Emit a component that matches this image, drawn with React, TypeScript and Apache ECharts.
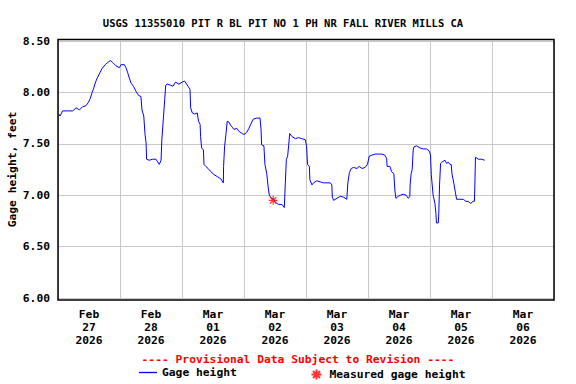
import React, { useEffect, useRef } from "react";
import * as echarts from "echarts";

const titleText = "USGS 11355010 PIT R BL PIT NO 1 PH NR FALL RIVER MILLS CA";
const dayLabels = ["Feb\n27\n2026", "Feb\n28\n2026", "Mar\n01\n2026", "Mar\n02\n2026", "Mar\n03\n2026", "Mar\n04\n2026", "Mar\n05\n2026", "Mar\n06\n2026"];
const yTicks = [6.0, 6.5, 7.0, 7.5, 8.0, 8.5];

// hours since 2026-02-27 00:00
const hours = [
  0.26, 0.77, 1.8, 3.7, 5.7, 7.0, 8.3, 9.5, 10.8, 11.7, 12.5, 13.2, 13.7, 14.4, 15.0, 16.0, 17.0, 18.3, 19.2, 20.3,
  21.2, 22.4, 23.7, 24.4, 25.7, 26.3, 27.0, 27.6, 28.3, 29.2, 30.2, 31.2, 32.1, 32.5, 33.2, 33.7, 34.1, 34.3, 35.3, 36.6,
  37.9, 39.2, 39.9, 40.2, 40.8, 41.3, 41.7, 42.3, 43.6, 44.5, 45.5, 46.8, 48.1, 49.0, 49.8, 50.3, 51.1, 51.35, 52.0, 52.9,
  53.9, 54.4, 55.0, 55.2, 55.6, 56.3, 56.5, 57.2, 58.1, 59.1, 60.4, 61.7, 63.0, 64.0, 64.1, 64.5, 65.0, 65.5, 66.2, 66.8,
  67.5, 68.1, 69.2, 70.1, 71.3, 72.0, 73.0, 73.9, 74.6, 75.6, 76.9, 78.2, 78.6, 78.8, 79.7, 80.1, 80.8, 81.4, 81.8, 82.6,
  83.6, 84.1, 85.4, 86.7, 87.6, 88.0, 88.4, 88.9, 89.3, 89.7, 90.6, 91.9, 93.1, 94.4, 95.7, 96.2, 96.6, 97.3, 97.5, 98.3,
  98.9, 100.2, 101.5, 102.8, 104.1, 105.4, 106.0, 106.2, 106.7, 108.0, 109.3, 110.6, 111.8, 112.2, 112.8, 113.5, 114.4, 115.7, 116.6, 117.7,
  118.9, 119.8, 120.5, 121.5, 122.8, 124.1, 125.4, 126.5, 127.2, 127.4, 128.5, 129.1, 130.0, 130.4, 130.8, 131.7, 132.6, 133.6, 134.7, 135.6,
  136.2, 136.3, 136.7, 137.1, 137.5, 137.8, 138.8, 140.1, 141.4, 142.7, 143.7, 144.2, 144.5, 145.2, 145.9, 146.3, 146.5, 147.2, 147.4, 147.7,
  148.1, 148.5, 149.8, 150.4, 151.1, 151.7, 152.2, 152.5, 153.2, 153.8, 154.3, 155.6, 156.9, 157.9, 158.8, 159.7, 160.7, 161.2, 161.4, 161.6,
  162.7, 163.9, 165.2,
];

const gageHeight = [
  7.79, 7.77, 7.82, 7.82, 7.82, 7.85, 7.83, 7.86, 7.87, 7.90, 7.94, 8.00, 8.03, 8.09, 8.13, 8.18, 8.23, 8.27, 8.29, 8.31,
  8.29, 8.26, 8.24, 8.27, 8.27, 8.24, 8.19, 8.14, 8.09, 8.06, 8.01, 7.97, 7.96, 7.83, 7.77, 7.59, 7.51, 7.35, 7.34, 7.35,
  7.35, 7.30, 7.34, 7.54, 7.75, 7.93, 8.07, 8.08, 8.07, 8.06, 8.10, 8.08, 8.10, 8.11, 8.08, 8.06, 8.03, 7.85, 7.80, 7.79,
  7.80, 7.72, 7.69, 7.57, 7.46, 7.44, 7.30, 7.28, 7.26, 7.23, 7.20, 7.18, 7.16, 7.12, 7.28, 7.48, 7.59, 7.72, 7.71, 7.68,
  7.66, 7.64, 7.65, 7.62, 7.60, 7.59, 7.61, 7.65, 7.69, 7.74, 7.75, 7.75, 7.64, 7.49, 7.48, 7.30, 7.21, 7.07, 7.00, 6.97,
  6.96, 6.93, 6.91, 6.91, 6.88, 7.12, 7.35, 7.38, 7.49, 7.60, 7.57, 7.55, 7.56, 7.55, 7.54, 7.48, 7.30, 7.28, 7.15, 7.10,
  7.12, 7.14, 7.13, 7.12, 7.12, 7.12, 7.10, 6.98, 6.95, 6.97, 6.99, 6.98, 6.96, 7.12, 7.22, 7.26, 7.27, 7.26, 7.28, 7.26,
  7.27, 7.30, 7.38, 7.39, 7.40, 7.40, 7.40, 7.39, 7.36, 7.28, 7.28, 7.23, 7.21, 7.05, 6.97, 6.99, 7.00, 7.01, 7.00, 6.97,
  6.99, 7.10, 7.21, 7.25, 7.44, 7.47, 7.48, 7.46, 7.45, 7.45, 7.43, 7.39, 7.20, 7.00, 6.92, 6.82, 6.73, 6.73, 6.82, 7.10,
  7.31, 7.32, 7.34, 7.31, 7.32, 7.30, 7.30, 7.21, 7.12, 7.03, 6.96, 6.96, 6.96, 6.94, 6.94, 6.92, 6.94, 6.94, 7.13, 7.37,
  7.35, 7.35, 7.34,
];

const measuredHours = [83.3];
const measuredHeight = [6.95];

const FONT = "'DejaVu Sans Mono', 'Liberation Mono', monospace";
const STAR = "path://M5,0 L5,10 M0,5 L10,5 M1.5,1.5 L8.5,8.5 M1.5,8.5 L8.5,1.5";

export default function App() {
  const ref = useRef<HTMLDivElement>(null);
  useEffect(() => {
    if (!ref.current) return;
    const chart = echarts.init(ref.current, null, { renderer: "svg" });
    const lineData = hours.map((h, i) => [h, gageHeight[i]]);
    const measData = measuredHours.map((h, i) => [h, measuredHeight[i]]);
    chart.setOption({
      animation: false,
      backgroundColor: "#ffffff",
      title: {
        text: titleText,
        left: 278,
        top: 12,
        textAlign: "center",
        textStyle: { fontFamily: FONT, fontSize: 10.5, fontWeight: "bold", color: "#000" },
      },
      grid: { left: 58, right: 22, top: 41, bottom: 86, containLabel: false, outerBoundsMode: "none" },
      xAxis: [
        {
          type: "value",
          min: 0,
          max: 192,
          interval: 24,
          axisLabel: { show: false },
          axisTick: { show: false },
          axisLine: { show: false },
          splitLine: { show: true, lineStyle: { color: "#c8c8c8", width: 1 } },
        },
        {
          type: "category",
          position: "bottom",
          data: dayLabels,
          boundaryGap: true,
          axisTick: { show: false },
          axisLine: { show: false },
          splitLine: { show: false },
          axisLabel: {
            interval: 0,
            margin: 10,
            fontFamily: FONT,
            fontSize: 11.3,
            fontWeight: "bold",
            color: "#000",
            lineHeight: 13,
          },
        },
      ],
      yAxis: {
        type: "value",
        min: 6,
        max: 8.5,
        interval: 0.5,
        name: "Gage height, feet",
        nameLocation: "middle",
        nameGap: 40,
        nameMoveOverlap: false,
        nameTextStyle: { fontFamily: FONT, fontSize: 11.3, fontWeight: "bold", color: "#000" },
        axisLine: { show: false },
        axisTick: { show: false },
        axisLabel: {
          margin: 8,
          fontFamily: FONT,
          fontSize: 11.3,
          fontWeight: "bold",
          color: "#000",
          formatter: (v: number) => (yTicks.includes(v) ? v.toFixed(2) : ""),
        },
        splitLine: { show: true, lineStyle: { color: "#c8c8c8", width: 1 } },
      },
      legend: [
        {
          data: [{ name: "Gage height", icon: "rect", itemStyle: { color: "#0000ff" } }],
          left: 134,
          top: 362,
          itemWidth: 18,
          itemHeight: 1.3,
          itemGap: 5,
          textStyle: { fontFamily: FONT, fontSize: 11.3, fontWeight: "bold", color: "#000" },
          selectedMode: false,
        },
        {
          data: [{ name: "Measured gage height", icon: STAR }],
          left: 304,
          top: 362,
          itemWidth: 10,
          itemHeight: 10,
          textStyle: { fontFamily: FONT, fontSize: 11.3, fontWeight: "bold", color: "#000", padding: [0, 0, 0, 3] },
          selectedMode: false,
        },
      ],
      graphic: [
        {
          type: "rect",
          z: 100,
          shape: { x: 58, y: 39.5, width: 496, height: 260.5 },
          style: { fill: "none", stroke: "#000", lineWidth: 1.5 },
          silent: true,
        },
        {
          type: "text",
          x: 298,
          y: 359,
          style: {
            text: "---- Provisional Data Subject to Revision ----",
            fill: "#ff0000",
            font: `bold 11.3px ${FONT}`,
            textAlign: "center",
            textVerticalAlign: "middle",
          },
        },
      ],
      series: [
        {
          name: "Gage height",
          type: "line",
          xAxisIndex: 0,
          data: lineData,
          symbol: "none",
          lineStyle: { color: "#0000ff", width: 1 },
          itemStyle: { color: "#0000ff" },
          z: 3,
        },
        {
          name: "Measured gage height",
          type: "scatter",
          xAxisIndex: 0,
          data: measData,
          symbol: STAR,
          symbolSize: 9,
          itemStyle: { color: "none", borderColor: "#ff0000", borderWidth: 1.2 },
          z: 5,
        },
      ],
    });
    return () => chart.dispose();
  }, []);
  return <div ref={ref} style={{ position: "fixed", left: 0, top: 0, width: 576, height: 384 }} />;
}
